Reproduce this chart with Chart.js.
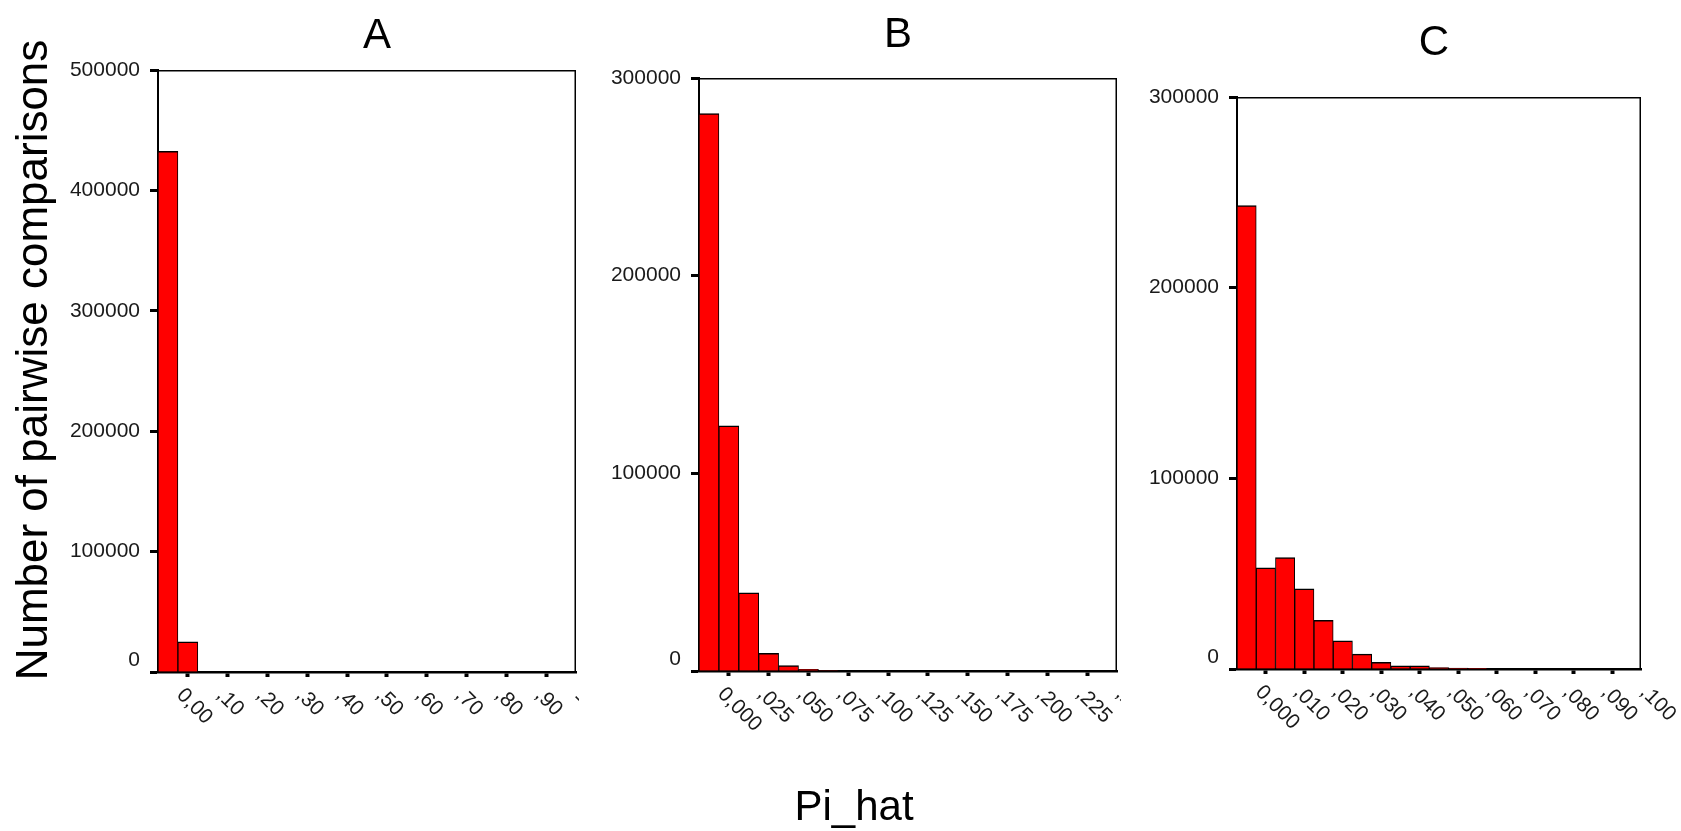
<!DOCTYPE html>
<html>
<head>
<meta charset="utf-8">
<script src="https://cdn.jsdelivr.net/npm/chart.js@4.4.1/dist/chart.umd.min.js"></script>
<style>
html,body{margin:0;padding:0;background:#fff;}
body{width:1681px;height:831px;position:relative;overflow:hidden;}
canvas{position:absolute;left:0;top:0;}
</style>
</head>
<body>
<canvas id="cA" width="1681" height="831" style="width:1681px;height:831px"></canvas>
<canvas id="cB" width="1681" height="831" style="width:1681px;height:831px"></canvas>
<canvas id="cC" width="1681" height="831" style="width:1681px;height:831px"></canvas>
<script>
// ---------- DATA ----------
const binsA = [0.00,0.05,0.10,0.15,0.20,0.25,0.30,0.35,0.40,0.45,0.50,0.55,0.60,0.65,0.70,0.75,0.80,0.85,0.90,0.95,1.00];
const countsA = [432500,25000,0,0,0,0,0,0,0,0,0,0,0,0,0,0,0,0,0,0,0];
const xTicksA = [0,0.1,0.2,0.3,0.4,0.5,0.6,0.7,0.8,0.9,1.0];
const xLabelsA = ["0,00",",10",",20",",30",",40",",50",",60",",70",",80",",90","1,00"];
const yTicksA = [0,100000,200000,300000,400000,500000];

const binsB = [0,0.0125,0.025,0.0375,0.05,0.0625,0.075,0.0875,0.1,0.1125,0.125,0.1375,0.15,0.1625,0.175,0.1875,0.2,0.2125,0.225,0.2375,0.25];
const countsB = [282000,124000,39500,9000,2800,900,200,0,0,0,0,0,0,0,0,0,0,0,0,0,0];
const xTicksB = [0,0.025,0.05,0.075,0.1,0.125,0.15,0.175,0.2,0.225,0.25];
const xLabelsB = ["0,000",",025",",050",",075",",100",",125",",150",",175",",200",",225",",250"];
const yTicksB = [0,100000,200000,300000];

const binsC = [0,0.005,0.01,0.015,0.02,0.025,0.03,0.035,0.04,0.045,0.05,0.055,0.06,0.065,0.07,0.075,0.08,0.085,0.09,0.095,0.1];
const countsC = [243000,53000,58500,42000,25500,14800,7800,3500,1600,1600,700,500,400,0,0,0,0,0,0,0,0];
const xTicksC = [0,0.01,0.02,0.03,0.04,0.05,0.06,0.07,0.08,0.09,0.1];
const xLabelsC = ["0,000",",010",",020",",030",",040",",050",",060",",070",",080",",090",",100"];
const yTicksC = [0,100000,200000,300000];

const panelTitles = ["A","B","C"];
const yTitle = "Number of pairwise comparisons";
const xTitle = "Pi_hat";

// ---------- LAYOUT / STYLE ----------
const W = 1681, H = 831;
const FONT = '"Liberation Sans", Arial, Helvetica, sans-serif';
const Y_AXIS_W = 90, X_AXIS_H = 10;

function makePanel(canvasId, bins, counts, xTicks, xLabels, yTicks, cfg, texts) {
  const framePlugin = {
    id: 'frameAndLabels',
    afterDraw(chart) {
      const ctx = chart.ctx, a = chart.chartArea, xs = chart.scales.x;
      ctx.save();
      ctx.strokeStyle = '#000';
      ctx.lineWidth = 1.5;
      ctx.beginPath();
      ctx.moveTo(a.left, a.top + 0.75);
      ctx.lineTo(a.right - 0.75, a.top + 0.75);
      ctx.lineTo(a.right - 0.75, a.bottom);
      ctx.stroke();
      ctx.restore();

      ctx.save();
      ctx.beginPath();
      ctx.rect(0, 0, cfg.clipRight, H);
      ctx.clip();
      ctx.font = '21px ' + FONT;
      ctx.fillStyle = '#1a1a1a';
      ctx.textAlign = 'left';
      ctx.textBaseline = 'middle';
      xTicks.forEach((v, i) => {
        const px = xs.getPixelForValue(v);
        ctx.save();
        ctx.translate(px + 12, a.bottom + 20);
        ctx.rotate(Math.PI / 4);
        ctx.fillText(xLabels[i], 0, 0);
        ctx.restore();
      });
      ctx.restore();

      texts.forEach(t => {
        ctx.save();
        ctx.font = t.size + 'px ' + FONT;
        ctx.fillStyle = '#000';
        ctx.textAlign = 'center';
        ctx.textBaseline = 'alphabetic';
        ctx.translate(t.x, t.y);
        if (t.rot) ctx.rotate(t.rot);
        ctx.fillText(t.text, 0, 0);
        ctx.restore();
      });
    }
  };

  return new Chart(document.getElementById(canvasId), {
    type: 'bar',
    data: {
      datasets: [{
        data: bins.map((b, i) => ({x: b, y: counts[i]})),
        backgroundColor: '#ff0000',
        borderColor: '#000',
        borderWidth: {top: 1.5, left: 1, right: 1, bottom: 0},
        borderSkipped: false,
        barPercentage: 1.0,
        categoryPercentage: 1.0
      }]
    },
    options: {
      responsive: false,
      animation: false,
      devicePixelRatio: 1,
      layout: {
        padding: {
          left: cfg.left - Y_AXIS_W,
          right: W - cfg.right,
          top: cfg.top,
          bottom: H - cfg.bottom - X_AXIS_H
        }
      },
      plugins: {legend: {display: false}, tooltip: {enabled: false}, title: {display: false}},
      scales: {
        x: {
          type: 'linear',
          min: cfg.xMin, max: cfg.xMax,
          offset: false,
          z: 1,
          afterBuildTicks: s => { s.ticks = xTicks.map(v => ({value: v})); },
          afterFit: s => { s.height = X_AXIS_H; },
          border: {display: true, color: '#000', width: 2.5},
          grid: {drawOnChartArea: false, drawTicks: true, tickLength: 5, tickWidth: 4, tickColor: '#000'},
          ticks: {display: false}
        },
        y: {
          type: 'linear',
          min: 0, max: yTicks[yTicks.length - 1],
          z: 1,
          afterBuildTicks: s => { s.ticks = yTicks.map(v => ({value: v})); },
          afterFit: s => { s.width = Y_AXIS_W; },
          border: {display: true, color: '#000', width: 2},
          grid: {drawOnChartArea: false, drawTicks: true, tickLength: 8, tickWidth: 3, tickColor: '#000'},
          ticks: {
            font: {family: FONT, size: 21, lineHeight: 1.1},
            color: '#1a1a1a',
            padding: 10,
            callback: v => (v === 0 ? ['0', ''] : String(v))
          }
        }
      }
    },
    plugins: [framePlugin]
  });
}

makePanel('cA', binsA, countsA, xTicksA, xLabelsA, yTicksA,
  {left: 158, right: 576, top: 70, bottom: 672, xMin: -0.025, xMax: 1.025, clipRight: 579},
  [
    {text: panelTitles[0], x: 377, y: 48, size: 42},
    {text: yTitle, x: 47, y: 360, size: 44, rot: -Math.PI / 2},
    {text: xTitle, x: 854, y: 820, size: 42}
  ]);
makePanel('cB', binsB, countsB, xTicksB, xLabelsB, yTicksB,
  {left: 699, right: 1117, top: 78, bottom: 671, xMin: -0.00625, xMax: 0.25625, clipRight: 1121},
  [{text: panelTitles[1], x: 898, y: 47, size: 42}]);
makePanel('cC', binsC, countsC, xTicksC, xLabelsC, yTicksC,
  {left: 1237, right: 1641, top: 97, bottom: 669, xMin: -0.0025, xMax: 0.1025, clipRight: W},
  [{text: panelTitles[2], x: 1434, y: 55, size: 42}]);
</script>
</body>
</html>
